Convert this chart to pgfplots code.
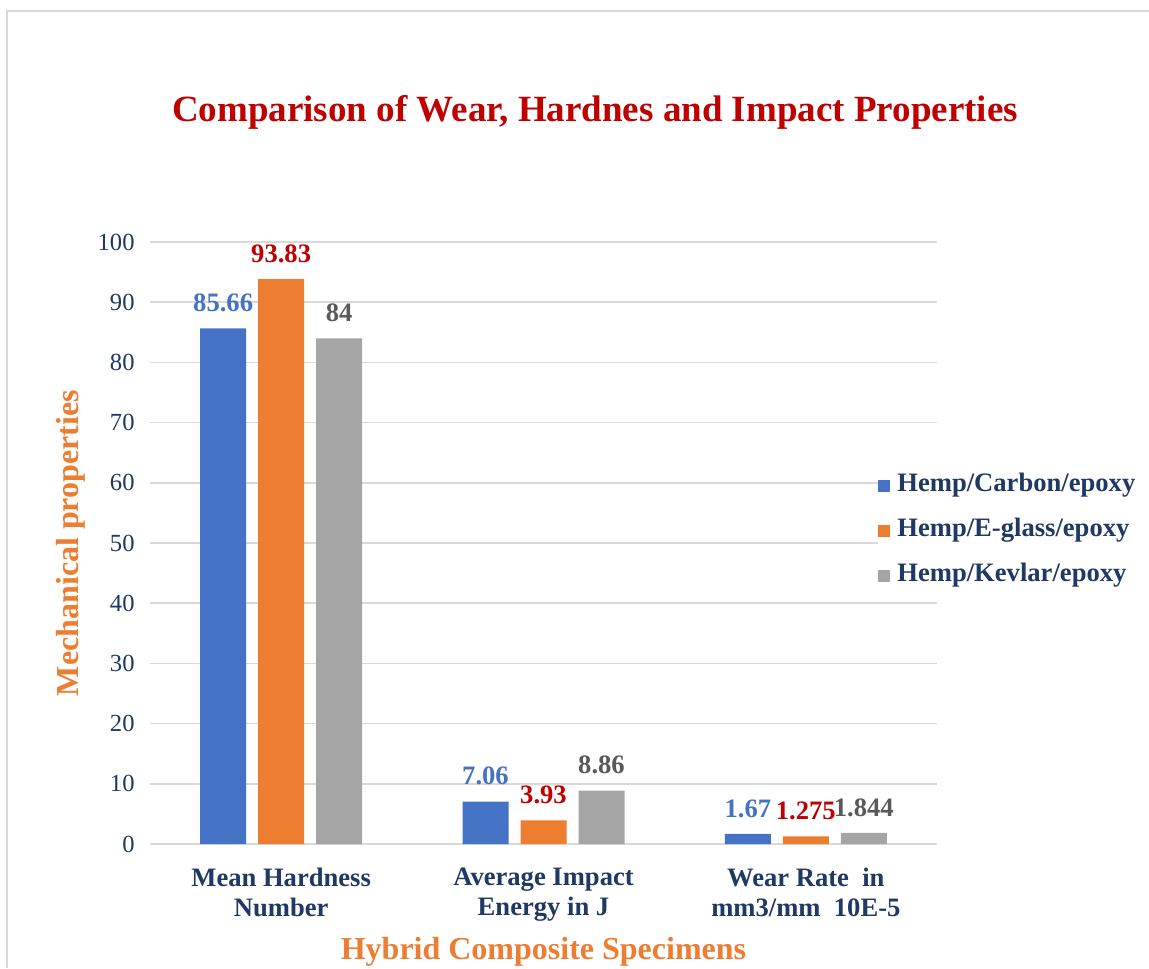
\documentclass[border=0pt]{standalone}
\usepackage{fontspec}
\setmainfont{Liberation Serif}
\usepackage{pgfplots}
\pgfplotsset{compat=1.18}
\definecolor{cblue}{HTML}{4472C4}
\definecolor{corange}{HTML}{ED7D31}
\definecolor{cgray}{HTML}{A5A5A5}
\definecolor{cred}{HTML}{C00000}
\definecolor{cdgray}{HTML}{595959}
\definecolor{navy}{HTML}{1F3864}
\definecolor{gridc}{HTML}{D9D9D9}
\pgfplotsset{sq/.style={legend image code/.code={\fill[#1] (0pt,-3pt) rectangle (6pt,3pt); \path (7.5pt,0pt);}}}
\begin{document}
\begin{tikzpicture}
\useasboundingbox (0,0) rectangle (574.5pt,-484pt);
\draw[color=gridc, line width=1pt] (3.5pt,-484pt) -- (3.5pt,-5.5pt) -- (574.5pt,-5.5pt);
\node[anchor=base, text=cred, font=\fontsize{18.5}{22}\selectfont\bfseries, inner sep=0pt] at (297.5pt,-61pt) {Comparison of Wear, Hardnes and Impact Properties};
\begin{axis}[
  at={(75pt,-422pt)}, anchor=south west,
  scale only axis, width=393.5pt, height=301pt,
  ybar=6pt, bar width=23pt,
  xmin=-0.5, xmax=2.5, ymin=0, ymax=100,
  xtick={0,1,2},
  xticklabels={{Mean Hardness\\Number},{Average Impact\\Energy in J},{Wear Rate\ \ in\\mm3/mm\ \ 10E-5}},
  ytick={0,10,...,100},
  axis line style={draw=none}, major tick style={draw=none},
  ymajorgrids, grid style={gridc, line width=0.75pt},
  /pgf/number format/assume math mode=true,
  yticklabel style={font=\fontsize{12.3}{14}\selectfont, text=navy, inner sep=0pt, anchor=east, xshift=-7.5pt},
  xticklabel style={font=\fontsize{13.3}{15}\selectfont\bfseries, text=navy, align=center, anchor=north, inner sep=0pt, yshift=-7.5pt},
  xlabel={Hybrid Composite Specimens},
  xlabel style={at={(axis description cs:0.5,-0.1545)}, anchor=north, inner sep=0pt, font=\fontsize{16}{19}\selectfont\bfseries, text=corange},
  ylabel={Mechanical properties},
  ylabel style={at={(axis description cs:-0.1,0.5)}, anchor=center, inner sep=0pt, font=\fontsize{16}{19}\selectfont\bfseries, text=corange},
  legend style={at={(axis description cs:0.925,0.5204)}, anchor=west, draw=none, fill=white, inner sep=0pt,
    font=\fontsize{13.3}{16}\selectfont\bfseries, text=navy, row sep=6.5pt,
    nodes={inner sep=2pt, text height=9pt, text depth=3pt}},
  legend cell align=left,
  every node near coord/.append style={font=\fontsize{13.3}{16}\selectfont\bfseries, inner sep=0pt, yshift=8pt},
  point meta=explicit symbolic,
  nodes near coords,
]
\addplot[fill=cblue, draw=none, sq=cblue, every node near coord/.append style={text=cblue}]
  coordinates {(0,85.66) [85.66] (1,7.06) [7.06] (2,1.67) [1.67]};
\addplot[fill=corange, draw=none, sq=corange, every node near coord/.append style={text=cred}]
  coordinates {(0,93.83) [93.83] (1,3.93) [3.93] (2,1.275) [1.275]};
\addplot[fill=cgray, draw=none, sq=cgray, every node near coord/.append style={text=cdgray}]
  coordinates {(0,84) [84] (1,8.86) [8.86] (2,1.844) [1.844]};
\legend{Hemp/Carbon/epoxy, Hemp/E-glass/epoxy, Hemp/Kevlar/epoxy}
\end{axis}
\end{tikzpicture}
\end{document}
